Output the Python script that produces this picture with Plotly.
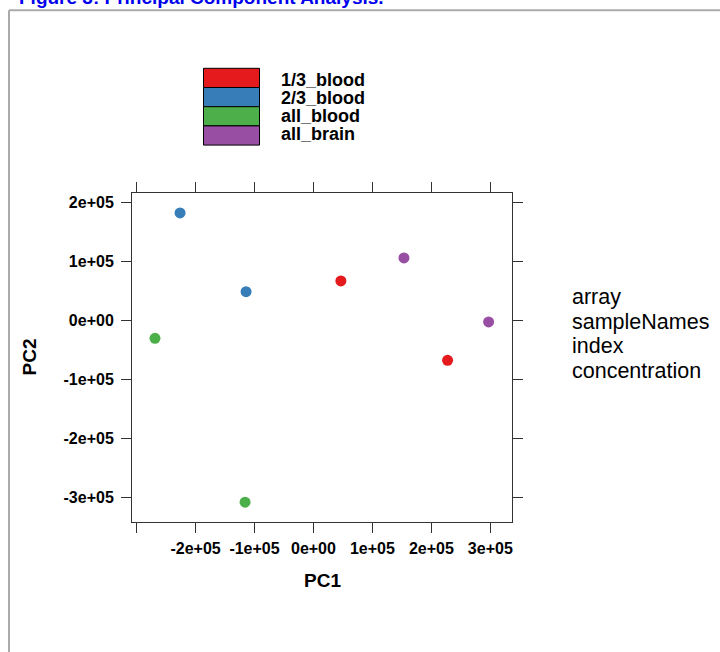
import plotly.graph_objects as go

# ---- data ----
groups = ["1/3_blood", "2/3_blood", "all_blood", "all_brain"]
group_colors = ["#E41A1C", "#377EB8", "#4DAF4A", "#984EA3"]
sample_group = ["1/3_blood", "1/3_blood", "2/3_blood", "2/3_blood",
                "all_blood", "all_blood", "all_brain", "all_brain"]
pc1 = [46500, 227500, -226300, -114300, -268800, -116000, 153500, 297100]
pc2 = [67400, -67400, 182900, 49200, -30000, -308500, 106500, -2200]
x_tick_vals = [-3e5, -2e5, -1e5, 0, 1e5, 2e5, 3e5]
x_tick_text = ["", "-2e+05", "-1e+05", "0e+00", "1e+05", "2e+05", "3e+05"]
y_tick_vals = [-3e5, -2e5, -1e5, 0, 1e5, 2e5]
y_tick_text = ["-3e+05", "-2e+05", "-1e+05", "0e+00", "1e+05", "2e+05"]
side_labels = ["array", "sampleNames", "index", "concentration"]
title_text = "Figure 3: Principal Component Analysis."
x_title = "PC1"
y_title = "PC2"

# ---- layout geometry ----
W, H = 720, 652
ML, MR, MT, MB = 132, 208, 193, 130
PW, PH = W - ML - MR, H - MT - MB
FONT = "Liberation Sans, Arial, Helvetica, sans-serif"
AX = "#333333"


def px(x):
    return (x - ML) / PW


def py(y):
    return (H - MB - y) / PH


fig = go.Figure()
for g, c in zip(groups, group_colors):
    xs = [x for x, s in zip(pc1, sample_group) if s == g]
    ys = [y for y, s in zip(pc2, sample_group) if s == g]
    fig.add_trace(go.Scatter(x=xs, y=ys, mode="markers", name=g,
                             marker=dict(color=c, size=11, line=dict(width=0)),
                             showlegend=False))

shapes = []
annotations = []

# outer gray frame (page border)
shapes.append(dict(type="line", xref="paper", yref="paper",
                   x0=px(9), x1=px(730), y0=py(10.3), y1=py(10.3),
                   line=dict(color="#ABABAB", width=2)))
shapes.append(dict(type="line", xref="paper", yref="paper",
                   x0=px(9), x1=px(9), y0=py(10.3), y1=py(660),
                   line=dict(color="#ABABAB", width=2)))

# legend key (color rectangles + labels)
row_h = 19.2
for i, (g, c) in enumerate(zip(groups, group_colors)):
    top = 68.3 + i * row_h
    shapes.append(dict(type="rect", xref="paper", yref="paper",
                       x0=px(203.5), x1=px(259.5), y0=py(top), y1=py(top + row_h),
                       fillcolor=c, line=dict(color="black", width=1)))
    annotations.append(dict(text=g, xref="paper", yref="paper",
                            x=px(278.5), y=py(79.5 + i * 18.1),
                            xanchor="left", yanchor="middle", showarrow=False,
                            font=dict(family=FONT, size=18, color="black", weight="bold")))

# side labels
for i, s in enumerate(side_labels):
    annotations.append(dict(text=s, xref="paper", yref="paper",
                            x=px(570), y=py(297 + i * 24.7),
                            xanchor="left", yanchor="middle", showarrow=False,
                            font=dict(family=FONT, size=21.5, color="black")))

# axis titles
annotations.append(dict(text=x_title, xref="paper", yref="paper",
                        x=0.5, y=py(580), xanchor="center", yanchor="middle",
                        showarrow=False,
                        font=dict(family=FONT, size=19, color="black", weight="bold")))
annotations.append(dict(text=y_title, xref="paper", yref="paper",
                        x=px(29), y=0.5, xanchor="center", yanchor="middle",
                        textangle=-90, showarrow=False,
                        font=dict(family=FONT, size=19, color="black", weight="bold")))

# figure title (cut off at top)
annotations.append(dict(text=title_text, xref="paper", yref="paper",
                        x=px(17), y=py(-2), xanchor="left", yanchor="middle",
                        showarrow=False,
                        font=dict(family=FONT, size=19, color="#0000EE", weight="bold")))

axis_common = dict(showgrid=False, zeroline=False, showline=True, mirror="allticks",
                   linecolor=AX, linewidth=1, ticks="outside", ticklen=10,
                   tickwidth=1, tickcolor=AX,
                   tickfont=dict(family=FONT, size=16, color="black", weight="bold"))

fig.update_layout(
    width=W, height=H,
    margin=dict(l=ML, r=MR, t=MT, b=MB, pad=0),
    paper_bgcolor="white", plot_bgcolor="white",
    xaxis=dict(range=[-307800, 336800], tickvals=x_tick_vals, ticktext=x_tick_text,
               ticklabelstandoff=2, **axis_common),
    yaxis=dict(range=[-342100, 216800], tickvals=y_tick_vals, ticktext=y_tick_text,
               ticklabelstandoff=4, **axis_common),
    shapes=shapes,
    annotations=annotations,
    showlegend=False,
)

fig.write_html("out.html")
